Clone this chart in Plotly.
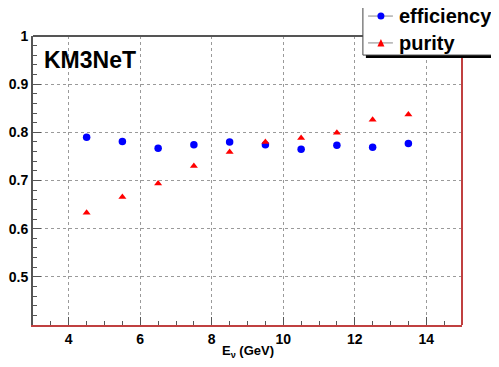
import plotly.graph_objects as go

energy = [4.5, 5.5, 6.5, 7.5, 8.5, 9.5, 10.5, 11.5, 12.5, 13.5]
efficiency = [0.790, 0.781, 0.767, 0.774, 0.780, 0.774, 0.765, 0.773, 0.769, 0.777]
purity = [0.633, 0.666, 0.694, 0.730, 0.759, 0.780, 0.788, 0.799, 0.826, 0.837]
x_ticks = [4, 6, 8, 10, 12, 14]
y_ticks = [0.5, 0.6, 0.7, 0.8, 0.9, 1.0]
y_tick_labels = ["0.5", "0.6", "0.7", "0.8", "0.9", "1"]
series_names = ["efficiency", "purity"]

FONT = "Liberation Sans, Arial, Helvetica, sans-serif"
BLUE = "#0000ff"
RED = "#ff0000"

fig = go.Figure()
fig.add_trace(go.Scatter(x=energy, y=efficiency, mode="markers", name=series_names[0],
                         showlegend=False,
                         marker=dict(symbol="circle", size=7.5, color=BLUE)))
fig.add_trace(go.Scatter(x=energy, y=purity, mode="markers", name=series_names[1],
                         showlegend=False,
                         marker=dict(symbol="triangle-up", size=7, color=RED)))

fig.update_layout(
    width=499, height=367,
    margin=dict(l=25, r=45, t=28, b=50, autoexpand=False),
    paper_bgcolor="white", plot_bgcolor="white",
    font=dict(family=FONT, color="black"),
    showlegend=False,
    xaxis=dict(range=[3, 15], tickvals=x_ticks, ticks="inside", ticklen=8,
               tickcolor="#555555", showline=True, linecolor="#c04040", linewidth=2,
               showgrid=True, gridcolor="#9a9a9a", griddash="dot", gridwidth=1,
               zeroline=False,
               minor=dict(dtick=0.5, tick0=3, ticks="inside", ticklen=4, tickcolor="#555555", showgrid=False),
               tickfont=dict(size=14, weight="bold", family=FONT)),
    yaxis=dict(range=[0.4, 1.0], tickvals=y_ticks, ticktext=y_tick_labels,
               ticks="inside", ticklen=8, tickcolor="#555555",
               showline=True, linecolor="#555555", linewidth=2,
               showgrid=True, gridcolor="#9a9a9a", griddash="dot", gridwidth=1,
               zeroline=False,
               minor=dict(dtick=0.02, tick0=0.4, ticks="inside", ticklen=4, tickcolor="#555555", showgrid=False),
               tickfont=dict(size=14, weight="bold", family=FONT)),
)

# frame: top gray, right red
fig.add_shape(type="line", xref="paper", yref="paper", x0=0, x1=1, y0=1, y1=1,
              line=dict(color="#555555", width=2))
fig.add_shape(type="line", xref="paper", yref="paper", x0=1, x1=1, y0=0, y1=1,
              line=dict(color="#c04040", width=2))

# ROOT-style legend box with shadow
fig.add_shape(type="rect", xref="paper", yref="paper", x0=0.776, x1=1.3, y0=0.924, y1=1.100,
              fillcolor="black", line=dict(width=0), layer="above")
fig.add_shape(type="rect", xref="paper", yref="paper", x0=0.769, x1=1.3, y0=0.934, y1=1.111,
              fillcolor="white", line=dict(color="#444444", width=1), layer="above")
legend_rows = [1.069, 0.976]
mx, rx, ry = 0.811, 3.5 / 429, 3.5 / 289
for yy in legend_rows:
    fig.add_shape(type="line", xref="paper", yref="paper", x0=0.781, x1=0.839, y0=yy, y1=yy,
                  line=dict(color="#888888", width=1), layer="above")
# circle marker
fig.add_shape(type="circle", xref="paper", yref="paper",
              x0=mx - rx, x1=mx + rx, y0=legend_rows[0] - ry, y1=legend_rows[0] + ry,
              fillcolor=BLUE, line=dict(width=0), layer="above")
# triangle marker
ty = legend_rows[1]
tri = f"M {mx - rx} {ty - ry} L {mx + rx} {ty - ry} L {mx} {ty + ry * 1.1} Z"
fig.add_shape(type="path", xref="paper", yref="paper", path=tri,
              fillcolor=RED, line=dict(width=0), layer="above")
for name, yy in zip(series_names, legend_rows):
    fig.add_annotation(text=name, xref="paper", yref="paper", x=0.849, y=yy,
                       xanchor="left", yanchor="middle", showarrow=False,
                       font=dict(size=20, weight="bold", family=FONT, color="black"))

fig.add_annotation(text="KM3NeT", xref="paper", yref="paper", x=0.021, y=0.917,
                   xanchor="left", yanchor="middle", showarrow=False,
                   font=dict(size=23, weight="bold", family=FONT, color="black"))

fig.add_annotation(text="E<sub>ν</sub> (GeV)", xref="paper", yref="paper", x=0.5, y=-0.093,
                   xanchor="center", yanchor="middle", showarrow=False,
                   font=dict(size=13, weight="bold", family=FONT, color="black"))

fig.write_html("out.html")
